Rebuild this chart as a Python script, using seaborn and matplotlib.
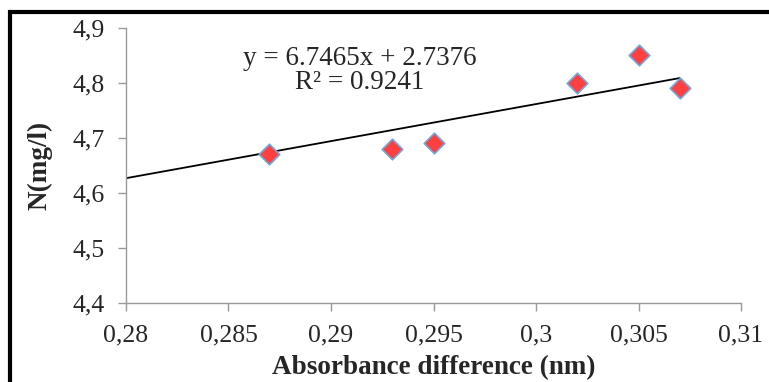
import numpy as np
import pandas as pd
import matplotlib
matplotlib.use("Agg")
import matplotlib.pyplot as plt
import seaborn as sns
from matplotlib.patches import Rectangle

# Data
absorbance = [0.287, 0.293, 0.295, 0.302, 0.305, 0.307]
nitrogen = [4.67, 4.68, 4.69, 4.80, 4.85, 4.79]
slope = 6.7465
intercept = 2.7376
r_squared = 0.9241
x_ticks = [0.28, 0.285, 0.29, 0.295, 0.30, 0.305, 0.31]
x_tick_labels = ["0,28", "0,285", "0,29", "0,295", "0,3", "0,305", "0,31"]
y_ticks = [4.4, 4.5, 4.6, 4.7, 4.8, 4.9]
y_tick_labels = ["4,4", "4,5", "4,6", "4,7", "4,8", "4,9"]
trend_x = [0.28, 0.307]

sns.set_theme(style="white")
plt.rcParams['font.family'] = ['Liberation Serif', 'DejaVu Serif']

df = pd.DataFrame({"x": absorbance, "y": nitrogen})
trend_df = pd.DataFrame({"x": trend_x, "y": [slope * v + intercept for v in trend_x]})

fig = plt.figure(figsize=(7.69, 3.82), dpi=100)
ax = fig.add_axes([126 / 769, 1 - 302.7 / 382, (741 - 126) / 769, (302.7 - 28) / 382])

sns.lineplot(data=trend_df, x="x", y="y", ax=ax, color="black", linewidth=1.3, zorder=2)
sns.scatterplot(data=df, x="x", y="y", ax=ax, marker="D", s=110, color="#FF4040",
                edgecolor="#6FA8DC", linewidth=1.2, zorder=3)

ax.set_xlim(0.28, 0.31)
ax.set_ylim(4.4, 4.9)
ax.set_xticks(x_ticks)
ax.set_xticklabels(x_tick_labels, fontsize=18.5)
ax.set_yticks(y_ticks)
ax.set_yticklabels(y_tick_labels, fontsize=18.5)
ax.tick_params(axis="both", direction="out", length=5.5, width=1, color="#999999",
               bottom=True, left=True)
ax.tick_params(axis="x", pad=10)
ax.tick_params(axis="y", pad=10)
for s in ["top", "right"]:
    ax.spines[s].set_visible(False)
for s in ["left", "bottom"]:
    ax.spines[s].set_color("#999999")
    ax.spines[s].set_linewidth(1)

ax.set_xlabel("Absorbance difference (nm)", fontsize=19.5, fontweight="bold")
ax.xaxis.set_label_coords(0.5, -0.19)
ax.set_ylabel("N(mg/l)", fontsize=19.5, fontweight="bold")
ax.yaxis.set_label_coords(-0.119, 0.5)

ax.text(0.2914, 4.8226, f"y = {slope}x + {intercept}\nR² = {r_squared}", fontsize=19.5,
        ha="center", va="center", transform=ax.transData, linespacing=0.95)

fig.patches.append(Rectangle((10 / 769, -0.05), 1.0, 1 - 12 / 382 + 0.05,
                             transform=fig.transFigure, fill=False, edgecolor="black",
                             linewidth=3, zorder=10))

fig.savefig("out.png", dpi=100)
